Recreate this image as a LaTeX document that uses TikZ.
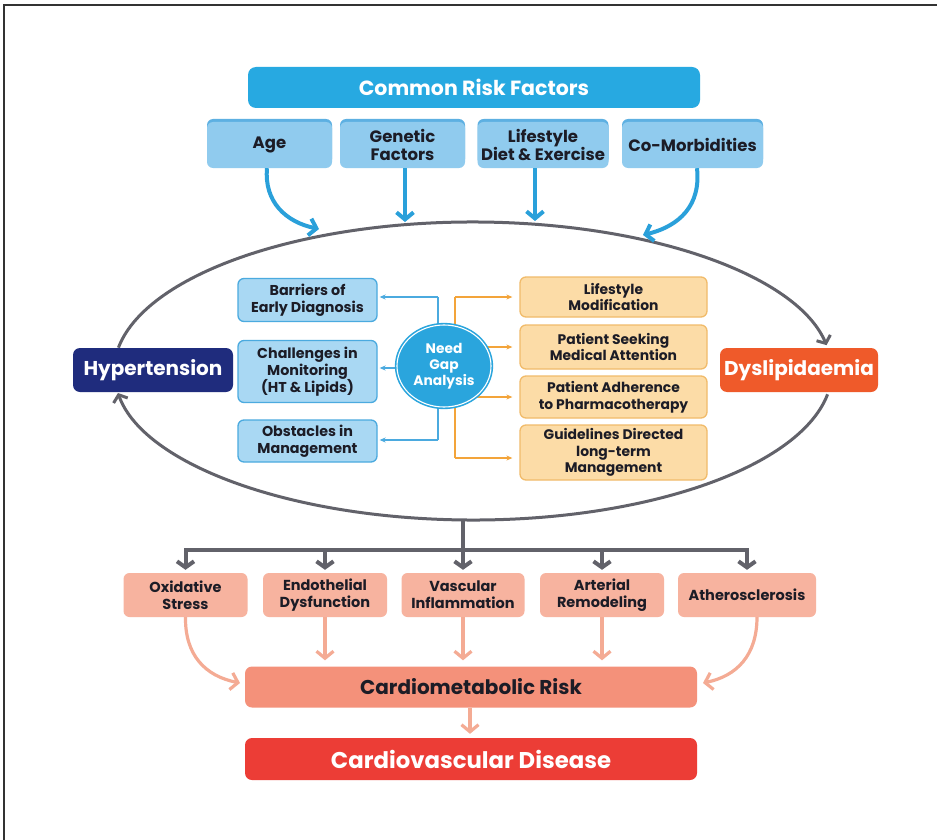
\documentclass[tikz,border=0pt]{standalone}
\usepackage{fontspec}
\setmainfont{Poppins}
\usetikzlibrary{arrows.meta,shapes.geometric}
\definecolor{crfblue}{HTML}{27A9E1}
\definecolor{factfill}{HTML}{90CBEE}
\definecolor{factedge}{HTML}{5DB0E2}
\definecolor{arrblue}{HTML}{2AA0DA}
\definecolor{navy}{HTML}{1F2C7D}
\definecolor{dysl}{HTML}{EF5A2A}
\definecolor{lbfill}{HTML}{A9D8F3}
\definecolor{lbline}{HTML}{4BAADF}
\definecolor{needblue}{HTML}{2AA5DD}
\definecolor{obfill}{HTML}{FCDCA7}
\definecolor{obline}{HTML}{F1BB6A}
\definecolor{oline}{HTML}{F3A43A}
\definecolor{grayline}{HTML}{62626A}
\definecolor{pkfill}{HTML}{F7B39F}
\definecolor{pkarrow}{HTML}{F4AB94}
\definecolor{cmfill}{HTML}{F4917A}
\definecolor{cvdfill}{HTML}{EC3D36}
\definecolor{darktext}{HTML}{1C1C26}
\tikzset{
  basebox/.style={rounded corners=6pt, align=center, inner sep=0pt, font=\bfseries},
  crfbox/.style={basebox, fill=crfblue, text=white, font=\bfseries\fontsize{20.5}{24}\selectfont, rounded corners=8pt},
  factbox/.style={basebox, fill=factfill, text=darktext, font=\bfseries\fontsize{16.5}{18.5}\selectfont,
     preaction={fill=factedge, transform canvas={yshift=3pt}}},
  mainbox/.style={basebox, text=white, font=\bfseries\fontsize{20}{23}\selectfont, rounded corners=7pt},
  lbbox/.style={basebox, fill=lbfill, draw=lbline, line width=1.3pt, text=darktext, font=\bfseries\fontsize{14.3}{17}\selectfont},
  obbox/.style={basebox, fill=obfill, draw=obline, line width=1.3pt, text=darktext, font=\bfseries\fontsize{13.9}{16.6}\selectfont},
  pkbox/.style={basebox, fill=pkfill, text=darktext, font=\bfseries\fontsize{14.5}{16.8}\selectfont},
  barrow/.style={draw=arrblue, line width=4pt, -{Straight Barb[length=7pt,width=17pt]}},
  earrow/.style={draw=grayline, line width=3pt, -{Straight Barb[length=6pt,width=15pt]}},
  garrow/.style={draw=grayline, line width=4pt, -{Straight Barb[length=6pt,width=17pt]}, shorten >=3pt},
  pkline/.style={draw=pkarrow, line width=3.2pt, -{Straight Barb[length=7pt,width=17pt]}},
  bthin/.style={draw=lbline, line width=1.4pt},
  bthinarrow/.style={bthin, -{Stealth[length=6pt,width=5pt]}, shorten >=2pt},
  othin/.style={draw=oline, line width=1.4pt},
  othinarrow/.style={othin, -{Stealth[length=6pt,width=5pt]}, shorten >=7pt},
}
\begin{document}
\begin{tikzpicture}[x=1pt,y=-1pt]
\useasboundingbox (0,0) rectangle (937,840);
\fill[white] (0,0) rectangle (937,840);
\draw[line width=2.2pt, black!80] (4,840) -- (4,5) -- (937,5);

% top
\node[crfbox, minimum width=452, minimum height=41] (crf) at (474,87.5) {Common Risk Factors};
\node[factbox, minimum width=125, minimum height=46] (age) at (269.5,145) {Age};
\node[factbox, minimum width=125, minimum height=46] (gen) at (402.5,145) {Genetic\\Factors};
\node[factbox, minimum width=131, minimum height=46] (life) at (543,145) {Lifestyle\\Diet \& Exercise};
\node[factbox, minimum width=141, minimum height=46] (como) at (692.5,145) {Co-Morbidities};

\coordinate (ageE) at (319,229);
\coordinate (genE) at (405,222);
\coordinate (lifeE) at (535,221);
\coordinate (comoE) at (643,235);
\coordinate (elC) at (473,371);

% ellipse
\draw[earrow] (elC) ++(189:359 and 149) arc[start angle=189, end angle=350, x radius=359, y radius=149];
\draw[earrow] (elC) ++(9:359 and 149) arc[start angle=9, end angle=171.5, x radius=359, y radius=149];

% factor arrows
\draw[barrow] ([xshift=-2.5]age.south) .. controls (264,202) and (286,222) .. (ageE);
\draw[barrow] (gen.south -| genE) -- (genE);
\draw[barrow] (life.south -| lifeE) -- (lifeE);
\draw[barrow] ([xshift=4.5]como.south) .. controls (701,205) and (680,226) .. (comoE);

% side nodes
\node[mainbox, fill=navy, minimum width=160, minimum height=44] (hyp) at (153,370) {Hypertension};
\node[mainbox, fill=dysl, minimum width=158, minimum height=44] (dys) at (799,370) {Dyslipidaemia};

% left boxes
\node[lbbox, minimum width=139, minimum height=43] (barr) at (307.5,300) {Barriers of\\Early Diagnosis};
\node[lbbox, minimum width=139, minimum height=62] (chal) at (307.5,371.5) {Challenges in\\Monitoring\\(HT \& Lipids)};
\node[lbbox, minimum width=139, minimum height=42] (obst) at (307.5,441) {Obstacles in\\Management};

% right boxes
\node[obbox, minimum width=187, minimum height=40] (m1) at (613.5,297) {Lifestyle\\Modification};
\node[obbox, minimum width=187, minimum height=44] (m2) at (613.5,347) {Patient Seeking\\Medical Attention};
\node[obbox, minimum width=187, minimum height=42] (m3) at (613.5,397) {Patient Adherence\\to Pharmacotherapy};
\node[obbox, minimum width=187, minimum height=55] (m4) at (613.5,452.5) {Guidelines Directed\\long-term\\Management};

% connectors of need gap
\coordinate (bj1) at (438,297);
\coordinate (bj2) at (438,368);
\coordinate (bj3) at (438,440);
\coordinate (oj1) at (455,297);
\coordinate (oj4) at (455,458);
\draw[othin] (oj1) -- (oj4);
\draw[othinarrow] (oj1) -- (m1.west |- oj1);
\draw[othinarrow] (oj1 |- m2.west) -- (m2.west);
\draw[othinarrow] (oj1 |- m3.west) -- (m3.west);
\draw[othinarrow] (oj4) -- (m4.west |- oj4);
\draw[bthin] (bj1) -- (bj3);
\draw[bthinarrow] (bj1) -- (barr.east |- bj1);
\draw[bthinarrow] (bj3) -- (obst.east |- bj3);
\draw[bthinarrow] (bj2) -- (chal.east |- bj2);

\node[ellipse, fill=needblue, draw=needblue, line width=1.6pt, double=white, double distance=1.1pt,
      minimum width=94, minimum height=82, inner sep=0pt, align=center, text=white,
      font=\bfseries\fontsize{13.8}{16}\selectfont] (need) at (444,366) {Need\\Gap\\Analysis};

% lower tree
\node[pkbox, minimum width=124, minimum height=44] (ox) at (185.5,595) {Oxidative\\Stress};
\node[pkbox, minimum width=124, minimum height=44] (en) at (325,595) {Endothelial\\Dysfunction};
\node[pkbox, minimum width=123, minimum height=44] (va) at (463,595) {Vascular\\Inflammation};
\node[pkbox, minimum width=124, minimum height=44] (ar) at (602,595) {Arterial\\Remodeling};
\node[pkbox, minimum width=138, minimum height=44] (at) at (747,595) {Atherosclerosis};

\coordinate (tr) at (463,519);
\coordinate (bar) at (463,550);
\draw[garrow] (tr) -- (va.north);
\draw[garrow] (bar) -| (ox.north);
\draw[garrow] (bar) -| (at.north);
\draw[garrow] (en.north |- bar) -- (en.north);
\draw[garrow] (ar.north |- bar) -- (ar.north);

\node[basebox, fill=cmfill, text=darktext, minimum width=452, minimum height=41, rounded corners=7pt,
      font=\bfseries\fontsize{20}{23}\selectfont] (cm) at (471,687) {Cardiometabolic Risk};
\node[mainbox, fill=cvdfill, minimum width=452, minimum height=42,
      font=\bfseries\fontsize{22.8}{26}\selectfont] (cvd) at (471,759) {Cardiovascular Disease};

\coordinate (cmL) at (240,683);
\coordinate (cmR) at (703,683);
\draw[pkline] (ox.south) .. controls (185,655) and (205,676) .. (cmL);
\draw[pkline, shorten >=6pt] (en.south) -- (en.south |- cm.north);
\draw[pkline, shorten >=6pt] (va.south) -- (va.south |- cm.north);
\draw[pkline, shorten >=6pt] (ar.south) -- (ar.south |- cm.north);
\draw[pkline] ([xshift=10]at.south) .. controls (757,655) and (737,676) .. (cmR);
\draw[pkline, shorten >=4pt] ([xshift=-1]cm.south) -- ([xshift=-1]cvd.north);
\end{tikzpicture}
\end{document}
